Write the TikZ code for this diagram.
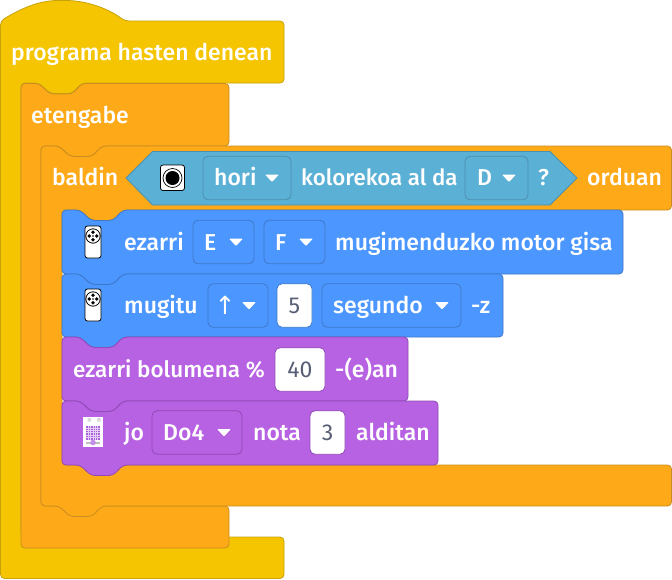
\documentclass[tikz,border=0pt]{standalone}
\usepackage{fontspec}
\setmainfont{Fira Sans Medium}
\newfontfamily\numfont{Fira Sans}
\newfontfamily\arrowfont{DejaVu Sans}
\usepackage{xcolor}
\definecolor{hatyellow}{HTML}{F4C500}
\definecolor{hatedge}{HTML}{C7A20A}
\definecolor{loopfill}{HTML}{FEA918}
\definecolor{loopedge}{HTML}{C98D1F}
\definecolor{motorblue}{HTML}{4C97FF}
\definecolor{motoredge}{HTML}{3E78C8}
\definecolor{soundfill}{HTML}{B762E2}
\definecolor{soundedge}{HTML}{9049B6}
\definecolor{sensefill}{HTML}{5BB0D5}
\definecolor{senseedge}{HTML}{4C8FAE}
\definecolor{numtext}{HTML}{575E75}
\definecolor{gridpurple}{HTML}{A960DC}
\tikzset{
  lbl/.style={anchor=base west,inner sep=0pt,text=white,font=\fontsize{23}{24}\selectfont},
  numlbl/.style={inner sep=0pt,text=numtext,font=\numfont\fontsize{23}{24}\selectfont},
  chip/.style={rounded corners=5pt,minimum height=43.5pt,inner sep=0pt,line width=0.8pt},
  chipblue/.style={chip,draw=motoredge,fill=motorblue},
  chippurple/.style={chip,draw=soundedge,fill=soundfill},
  chipsense/.style={chip,draw=senseedge,fill=sensefill},
  chipwhite/.style={chip,draw=soundedge,fill=white},
  chipwhiteb/.style={chip,draw=motoredge,fill=white},
  block/.style={line width=0.8pt,rounded corners=4pt,line join=round},
  dropdown/.pic={\fill[white,rounded corners=1pt] (-7,-3.5)--(7,-3.5)--(0,4)--cycle;},
  remote/.pic={
    \draw[black,fill=white,line width=0.8pt,rounded corners=2.5pt] (-8,-16) rectangle (8,16);
    \draw[black,line width=0.8pt] (0,-6) circle (7.2);
    \foreach \a in {0,90,180,270}{\fill[black] ({3.8*cos(\a)},{-6+3.8*sin(\a)}) circle (1.9);}
    \fill[black] (0,-6) circle (0.8);
  },
  board/.pic={
    \fill[white] (-10,-15) rectangle (10,15);
    \fill[black!15] (-5.5,-14) rectangle (-2,-10.5) (4,-14) rectangle (7.5,-10.5);
    \fill[gridpurple] (-7,-6.5) rectangle (7,7.5);
    \foreach \i in {1,...,5}{
      \draw[white!70!gridpurple,line width=0.4pt] ({-7+14*\i/6},-6.5) -- ({-7+14*\i/6},7.5);
      \draw[white!70!gridpurple,line width=0.4pt] (-7,{-6.5+14*\i/6}) -- (7,{-6.5+14*\i/6});
    }
    \fill[black!25] (-7,9.5) rectangle (7,11.5);
    \fill[gridpurple!70] (0,10.5) circle (2.8);
  }
}
% top edge cut and bottom edge tab, both at a given left end
\newcommand{\cutedge}[2]{-- ({#1+18},#2) -- ({#1+29},{#2+10.5}) -- ({#1+51},{#2+10.5}) -- ({#1+61},#2)}
\newcommand{\tabedge}[2]{-- ({#1+61},#2) -- ({#1+51},{#2+10.5}) -- ({#1+29},{#2+10.5}) -- ({#1+18},#2)}
\newcommand{\stackblock}[5]{\draw[block,#1] (#2,#4) \cutedge{#2}{#4} -- (#3,#4) -- (#3,#5) \tabedge{#2}{#5} -- (#2,#5) -- cycle;}
\begin{document}
\begin{tikzpicture}[x=1pt,y=-1pt]
\useasboundingbox (0,0) rectangle (672,579);
% hat with its C shape
\draw[block,fill=hatyellow,draw=hatedge] (0.5,21) .. controls (25,6) and (42,0.5) .. (62,0.5) .. controls (84,0.5) and (106,7) .. (125,21) -- (284,21) -- (284,83) \tabedge{21}{83} -- (21,83) -- (21,537) -- (284,537) -- (284,578.5) -- (0.5,578.5) -- cycle;
% forever loop
\draw[block,fill=loopfill,draw=loopedge] (21,83.5) \cutedge{21}{83.5} -- (229,83.5) -- (229,146) \tabedge{41}{146} -- (41,146) -- (41,506) -- (229,506) -- (229,548) -- (21,548) -- cycle;
% if block
\draw[block,fill=loopfill,draw=loopedge] (41,146) \cutedge{41}{146} -- (671.5,146) -- (671.5,210) \tabedge{62}{210} -- (62,210) -- (62,465) -- (671.5,465) -- (671.5,506) \tabedge{41}{506} -- (41,506) -- cycle;
% condition
\draw[line width=0.8pt,fill=sensefill,draw=senseedge,line join=round] (126,178) -- (152.5,151.5) -- (550,151.5) -- (577,178) -- (550,205) -- (152.5,205) -- cycle;
% statements
\stackblock{fill=motorblue,draw=motoredge}{62}{623}{210}{274}
\stackblock{fill=motorblue,draw=motoredge}{62}{503}{274}{337}
\stackblock{fill=soundfill,draw=soundedge}{62}{408}{337}{401}
\stackblock{fill=soundfill,draw=soundedge}{62}{438}{401}{465}
% chips
\node[chipsense,minimum width=88pt] (chipHori) at (247,178) {};
\node[chipsense,minimum width=63pt] (chipD) at (496.5,178) {};
\node[chipblue,minimum width=61pt] (chipE) at (223.5,242) {};
\node[chipblue,minimum width=61pt] (chipF) at (294.5,242) {};
\node[chipblue,minimum width=60pt] (chipDir) at (238,305.5) {};
\node[chipwhiteb,minimum width=35pt] (chipFive) at (294.5,305.5) {};
\node[chipblue,minimum width=139pt] (chipSec) at (391.5,305.5) {};
\node[chipwhite,minimum width=50pt] (chipVol) at (300,369.5) {};
\node[chippurple,minimum width=90pt] (chipNote) at (197,432.5) {};
\node[chipwhite,minimum width=35pt] (chipTimes) at (327.5,432.5) {};
% dropdown arrows
\pic at (272,178) {dropdown};
\pic at (509,178) {dropdown};
\pic at (236,242) {dropdown};
\pic at (306,242) {dropdown};
\pic at (249,305.5) {dropdown};
\pic at (442,305.5) {dropdown};
\pic at (224,432.5) {dropdown};
% icons
\draw[black,fill=white,line width=0.8pt,rounded corners=2.5pt] (160.5,165) rectangle (184.5,190.5);
\draw[black,line width=0.7pt] (172.5,178) circle (9.5);
\fill[black] (172.5,178) circle (7);
\pic at (93,242) {remote};
\pic at (93,305) {remote};
\pic at (93,432) {board};
% texts
\node[lbl] (lblStart) at (11,60) {programa hasten denean};
\node[lbl] (lblLoop) at (31,123) {etengabe};
\node[lbl] (lblIf) at (52,185.5) {baldin};
\node[lbl] (lblHori) at (214,185.5) {hori};
\node[lbl,font=\fontsize{22.3}{24}\selectfont] (lblColor) at (301,185.5) {kolorekoa al da};
\node[lbl] (lblD) at (477,185.5) {D};
\node[lbl] (lblAsk) at (538,185.5) {?};
\node[lbl] (lblThen) at (587,185.5) {orduan};
\node[lbl] (lblSet) at (124,250) {ezarri};
\node[lbl] (lblE) at (204,250) {E};
\node[lbl] (lblF) at (275,250) {F};
\node[lbl] (lblMotor) at (335,250) {mugimenduzko motor gisa};
\node[lbl] (lblMove) at (124,313) {mugitu};
\node[lbl,font=\arrowfont\fontsize{25}{26}\selectfont] (lblUp) at (214.5,314) {↑};
\node[numlbl] (lblFive) at (294.5,305.5) {5};
\node[lbl] (lblSec) at (333,313) {segundo};
\node[lbl] (lblZ) at (471,313) {-z};
\node[lbl,font=\fontsize{22.5}{24}\selectfont] (lblVol) at (73,377) {ezarri bolumena \%};
\node[numlbl] (lblForty) at (300,369.5) {40};
\node[lbl] (lblAn) at (335,377) {-(e)an};
\node[lbl] (lblPlay) at (124,440.5) {jo};
\node[lbl] (lblDo) at (163,440.5) {Do4};
\node[lbl] (lblNote) at (253,440.5) {nota};
\node[numlbl] (lblThree) at (327.5,432.5) {3};
\node[lbl] (lblTimes) at (356,440.5) {alditan};
\end{tikzpicture}
\end{document}
